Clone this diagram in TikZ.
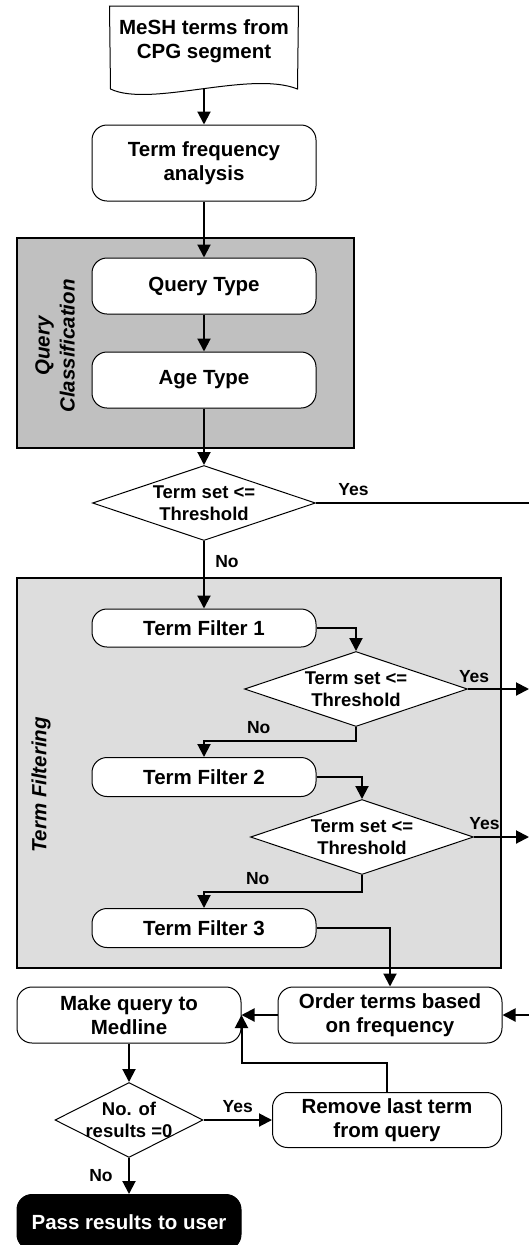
\documentclass[tikz,border=0pt]{standalone}
\usepackage{fontspec}
\setmainfont{Liberation Sans}
\usetikzlibrary{positioning,shapes.geometric,arrows.meta,calc,backgrounds}
\definecolor{qgray}{HTML}{C0C0C0}
\definecolor{fgray}{HTML}{DDDDDD}

\begin{document}
\begin{tikzpicture}[x=1pt,y=1pt,on grid,line width=2pt,->,>={Triangle[length=13pt,width=13pt]}]
\tikzstyle{proc}=[rectangle,rounded corners=15pt,draw,line width=1pt,fill=white,minimum width=224pt,minimum height=56pt,inner sep=2pt,align=center,font=\fontsize{20.5}{24}\selectfont\bfseries]
\tikzstyle{pill}=[proc,minimum height=38pt]
\tikzstyle{decision}=[diamond,aspect=3,draw,line width=1pt,fill=white,minimum width=223pt,minimum height=75pt,inner xsep=0pt,inner ysep=-12pt,align=center,font=\fontsize{18.5}{22}\selectfont\bfseries]
\tikzstyle{group}=[draw,line width=2pt]
\tikzstyle{grouplabel}=[rotate=90,align=center,font=\fontsize{20.5}{25}\selectfont\bfseries\itshape]
\tikzstyle{answer}=[font=\fontsize{17.5}{21}\selectfont\bfseries]

\useasboundingbox (0,0) rectangle (529,-1245);
\clip (0,0) rectangle (529,-1245);

\node[minimum width=187pt,minimum height=68pt,inner sep=0pt,align=center,font=\fontsize{20.5}{24}\selectfont\bfseries] (mesh) at (204,-41) {MeSH terms from\\CPG segment};
\draw[-,line width=1pt] (mesh.north west) -- (mesh.north east) -- (297.5,-89) .. controls (250,-70) and (150,-108) .. (110.5,-89) -- cycle;
\coordinate (meshfoot) at (204,-89);

\node[proc,minimum height=76pt] (freq) [below=122pt of mesh] {Term frequency\\analysis};
\node[proc] (qtype) [below=123pt of freq] {Query Type};
\node[proc] (atype) [below=94pt of qtype] {Age Type};
\node[decision] (dec1) [below=123pt of atype] {Term set <=\\Threshold};
\node[pill] (tf1) [below=125pt of dec1] {Term Filter 1};
\node[decision] (dec2) [below right=61pt and 152pt of tf1] {Term set <=\\Threshold};
\node[pill,minimum height=39pt] (tf2) [below=149pt of tf1] {Term Filter 2};
\node[decision] (dec3) [below right=60pt and 158pt of tf2] {Term set <=\\Threshold};
\node[pill,minimum height=39pt] (tf3) [below=151pt of tf2] {Term Filter 3};
\node[proc] (order) [below right=87pt and 186pt of tf3] {Order terms based\\on frequency};
\node[proc] (make) [left=261pt of order] {Make query to\\Medline};
\node[decision,minimum width=148pt] (dec4) [below=105pt of make] {No. of\\results =0};
\node[proc,minimum width=229pt,minimum height=55pt] (remove) [right=258pt of dec4] {Remove last term\\from query};
\node[proc,minimum height=55pt,fill=black,text=white] (pass) [below=102pt of dec4] {Pass results to user};

\node[grouplabel] (qlabel) at (55,-346) {Query\\Classification};
\node[grouplabel] (flabel) at (41,-785) {Term Filtering};

\begin{scope}[on background layer]
\draw[group,-,fill=qgray] ($(qtype.north west)+(-75,20)$) rectangle ($(atype.south east)+(37,-39)$);
\draw[group,-,fill=fgray] ($(tf1.north west)+(-75,31)$) rectangle ($(tf3.south -| dec2.east)+(33,-20)$);
\end{scope}

\coordinate (out1) at ($(dec1.east)+(220,0)$);
\coordinate (out2) at ($(dec2.east)+(61,0)$);
\coordinate (out3) at ($(dec3.east)+(55,0)$);
\coordinate (in4) at ($(order.east)+(33,0)$);

\draw (meshfoot) -- (freq);
\draw (freq) -- (qtype);
\draw (qtype) -- (atype);
\draw (atype) -- (dec1);
\draw[-] (dec1.east) -- node[answer,pos=0.17,above=3pt] {Yes} (out1);
\draw (dec1) -- node[answer,pos=0.3,right=7pt] {No} (tf1);
\draw (tf1.east) -| (dec2.north);
\draw (dec2.east) -- node[answer,pos=0.1,above=2pt] {Yes} (out2);
\draw (dec2.south) -- ++(0,-14) -| node[answer,pos=0.32,above=3pt] {No} (tf2.north);
\draw (tf2.east) -| (dec3.north);
\draw (dec3.east) -- node[answer,pos=0.19,above=3pt] {Yes} (out3);
\draw (dec3.south) -- ++(0,-17) -| node[answer,pos=0.33,above=3pt] {No} (tf3.north);
\draw (tf3.east) -| (order.north);
\draw (in4) -- (order.east);
\draw (order.west) -- (make.east);
\draw (remove.north) -- ++(0,29) -| (make.east);
\draw (make) -- (dec4);
\draw (dec4.east) -- node[answer,midway,above=3pt] {Yes} (remove.west);
\draw (dec4) -- node[answer,midway,left=12pt] {No} (pass);
\end{tikzpicture}
\end{document}
